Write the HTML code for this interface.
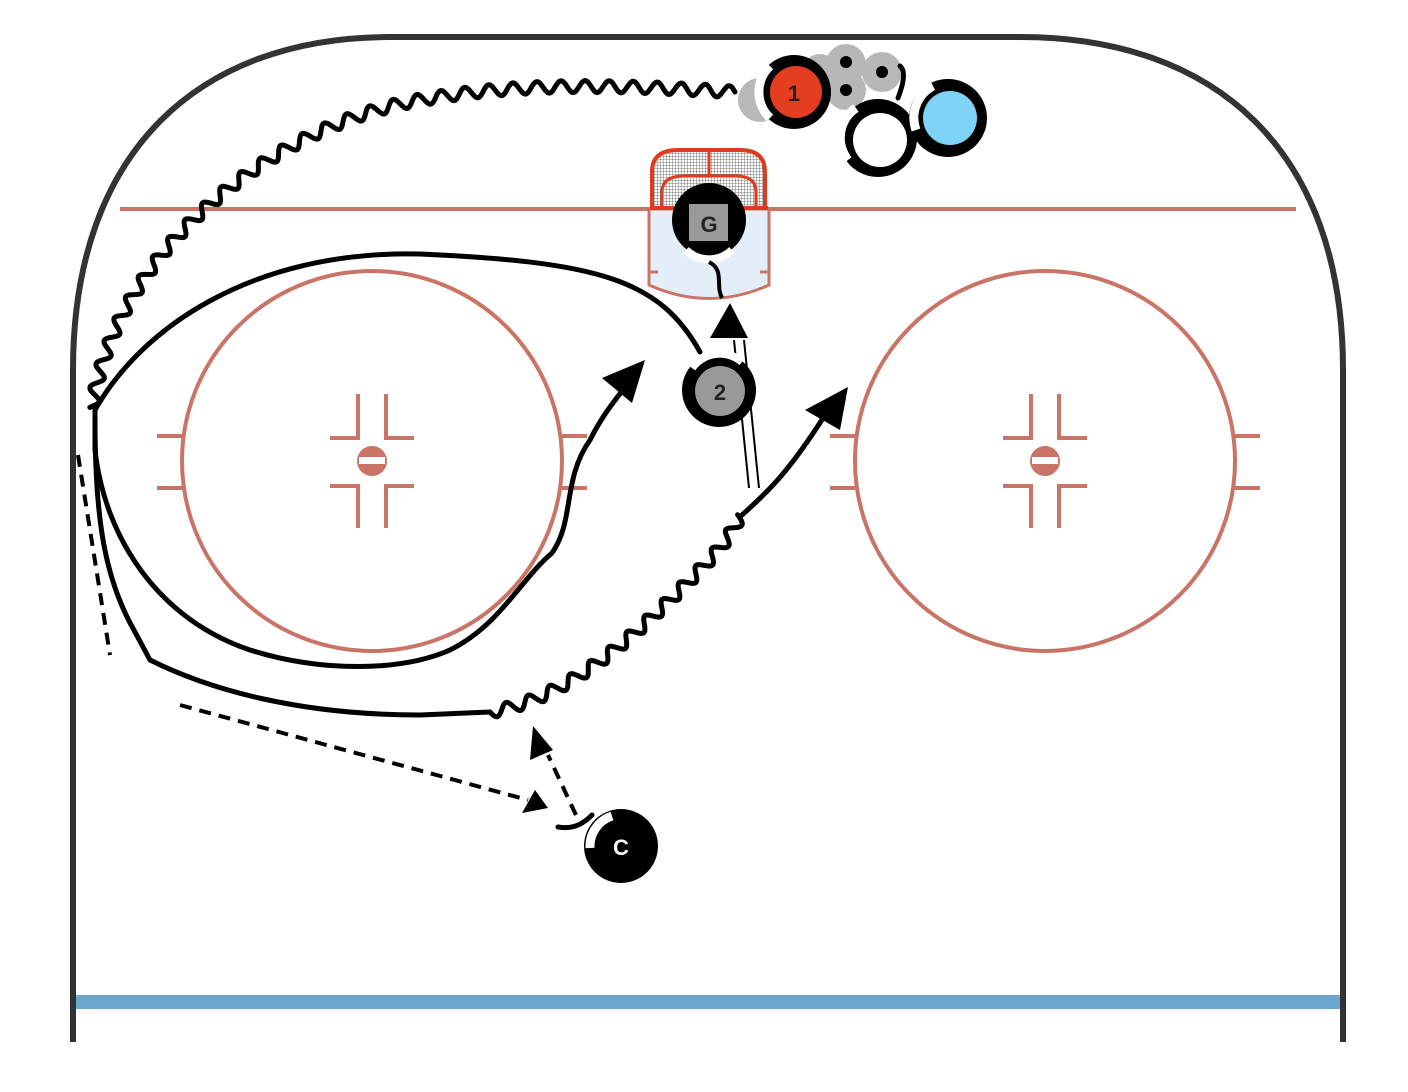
<!DOCTYPE html>
<html><head><meta charset="utf-8"><style>
html,body{margin:0;padding:0;background:#fff;width:1408px;height:1092px;overflow:hidden}
svg{display:block}
text{font-family:"Liberation Sans",sans-serif;font-weight:bold}
</style></head><body>
<svg id="s" width="1408" height="1092" viewBox="0 0 1408 1092">
<defs>
<pattern id="mesh" width="3" height="3" patternUnits="userSpaceOnUse"><rect width="3" height="3" fill="#fff"/><path d="M0 0H3M0 0V3" stroke="#555" stroke-width="0.8"/></pattern>
</defs>
<path d="M73 1042 V370 C73 150 200 37 390 37 H1020 C1215 37 1343 150 1343 370 V1042" fill="none" stroke="#333" stroke-width="6"/>
<rect x="76" y="995" width="1264" height="14" fill="#6fa6cf"/>
<line x1="120" y1="209" x2="1296" y2="209" stroke="#c97466" stroke-width="4"/>
<g stroke="#c97466" stroke-width="4" fill="none">
<circle cx="372" cy="461" r="190"/>
<circle cx="1045" cy="461" r="190"/>
<path d="M157 436H182M157 488H182M562 436H587M562 488H587M830 436H855M830 488H855M1235 436H1260M1235 488H1260"/>
<path d="M358 394V438H330M386 394V438H414M358 528V486H330M386 528V486H414"/>
<path d="M1031 394V438H1003M1059 394V438H1087M1031 528V486H1003M1059 528V486H1087"/>
</g>
<g fill="#c97466"><circle cx="372" cy="461" r="15"/><circle cx="1045" cy="461" r="15"/></g>
<g fill="#fff"><rect x="359" y="457" width="26" height="7"/><rect x="1032" y="457" width="26" height="7"/></g>
<path d="M649 209V285 Q709 312 769 285V209Z" fill="#e3eef9" stroke="#c97466" stroke-width="3"/>
<path d="M649 272H658M769 272H760" stroke="#c97466" stroke-width="3"/>
<path d="M652 207 V172 Q652 150 678 150 H740 Q765 150 765 172 V207" fill="url(#mesh)" stroke="#e03a1e" stroke-width="4"/>
<path d="M662 207 V192 Q662 176 684 176 H736 Q756 176 756 192 V207" fill="none" stroke="#e03a1e" stroke-width="3"/>
<line x1="709" y1="150" x2="709" y2="176" stroke="#e03a1e" stroke-width="3"/>
<line x1="650" y1="208" x2="768" y2="208" stroke="#e03a1e" stroke-width="4"/>
<g fill="#888" opacity="0.6">
<circle cx="760" cy="100" r="22"/><circle cx="846" cy="64" r="20"/><circle cx="846" cy="90" r="20"/><circle cx="882" cy="72" r="20"/><circle cx="820" cy="72" r="18"/>
</g>
<g fill="#000"><circle cx="846" cy="62" r="6"/><circle cx="846" cy="90" r="6"/><circle cx="882" cy="72" r="6"/></g>
<g fill="none" stroke="#000" stroke-width="5" stroke-linecap="round" stroke-linejoin="round">
<path id="w1" d="M735 92 C620 85 520 82 420 100 C300 120 200 200 150 270 C115 320 100 360 92 408"/>
<path d="M700 352 C660 280 600 262 420 254 C250 250 140 330 95 410 L95 450 C105 540 160 620 250 650 C320 672 400 672 450 650 C500 625 520 580 552 553 C575 520 562 480 590 440 C605 410 620 395 630 380"/>
<path d="M95 420 C95 520 105 580 135 632 L150 660 C210 690 300 715 420 715 L490 712"/>
<path id="w2" d="M490 712 C560 700 620 650 680 590 C710 560 730 540 740 515"/>
<path d="M742 515 C770 490 790 470 825 415"/>
<path d="M558 827 C575 830 585 822 592 815"/>
<path d="M898 98 C905 80 905 70 900 66"/>
</g>
<g fill="#000">
<polygon points="645,360 602,378 632,403"/>
<polygon points="848,387 805,410 840,430"/>
<polygon points="730,303 710,338 748,338"/>
<polygon points="548,808 522,813 535,790"/>
<polygon points="533,726 530,760 553,750"/>
</g>
<g stroke="#000" stroke-width="4" fill="none" stroke-dasharray="12 8">
<path d="M78 455 L110 655"/>
<path d="M180 705 L528 800"/>
<path d="M576 815 L548 755"/>
</g>
<g stroke="#000" stroke-width="2"><line x1="749" y1="488" x2="734" y2="340"/><line x1="759" y1="488" x2="744" y2="340"/></g>
<g>
<circle cx="794" cy="92" r="37" fill="#000"/><circle cx="796" cy="92" r="26" fill="#e43d1f"/>
<path d="M770 66 A36 36 0 0 0 770 118" stroke="#fff" stroke-width="9" fill="none"/>
<text x="794" y="101" font-size="22" text-anchor="middle" fill="#222">1</text>
<circle cx="878" cy="138" r="39" fill="#000"/><circle cx="880" cy="140" r="27" fill="#fff"/>
<path d="M856 108 A36 36 0 0 0 848 160" stroke="#fff" stroke-width="9" fill="none"/>
<circle cx="948" cy="118" r="39" fill="#000"/><circle cx="950" cy="118" r="27" fill="#7fd3f6"/>
<path d="M933 86 A36 36 0 0 0 916 130" stroke="#fff" stroke-width="9" fill="none"/>
<circle cx="709" cy="220" r="37" fill="#000"/><rect x="688" y="203" width="41" height="39" fill="#999" stroke="#000" stroke-width="2"/>
<path d="M686 250 A33 33 0 0 0 732 250" stroke="#fff" stroke-width="8" fill="none"/>
<path d="M709 262 C725 270 715 285 722 298" stroke="#000" stroke-width="4" fill="none"/>
<text x="709" y="232" font-size="22" text-anchor="middle" fill="#222">G</text>
<circle cx="719" cy="390" r="37" fill="#000"/><circle cx="720" cy="391" r="25" fill="#999"/>
<path d="M692 368 A34 34 0 0 1 742 362" stroke="#fff" stroke-width="8" fill="none"/>
<text x="720" y="400" font-size="22" text-anchor="middle" fill="#222">2</text>
<circle cx="621" cy="846" r="37" fill="#000"/>
<path d="M590 848 A32 32 0 0 1 612 816" stroke="#fff" stroke-width="9" fill="none"/>
<text x="621" y="855" font-size="22" text-anchor="middle" fill="#fff">C</text>
</g>
</svg>
<script>
document.querySelectorAll('#w1,#w2').forEach(function(p){
  var L=p.getTotalLength(),step=1.5,wl=24,amp=6,d='';
  for(var s=0;s<=L;s+=step){
    var a=p.getPointAtLength(s),b=p.getPointAtLength(Math.min(L,s+0.5)),c=p.getPointAtLength(Math.max(0,s-0.5));
    var dx=b.x-c.x,dy=b.y-c.y,n=Math.hypot(dx,dy)||1;
    var o=amp*Math.sin(2*Math.PI*s/wl);
    var x=a.x-dy/n*o,y=a.y+dx/n*o;
    d+=(s?'L':'M')+x.toFixed(1)+' '+y.toFixed(1);
  }
  p.setAttribute('d',d);
});
</script>
</body></html>
